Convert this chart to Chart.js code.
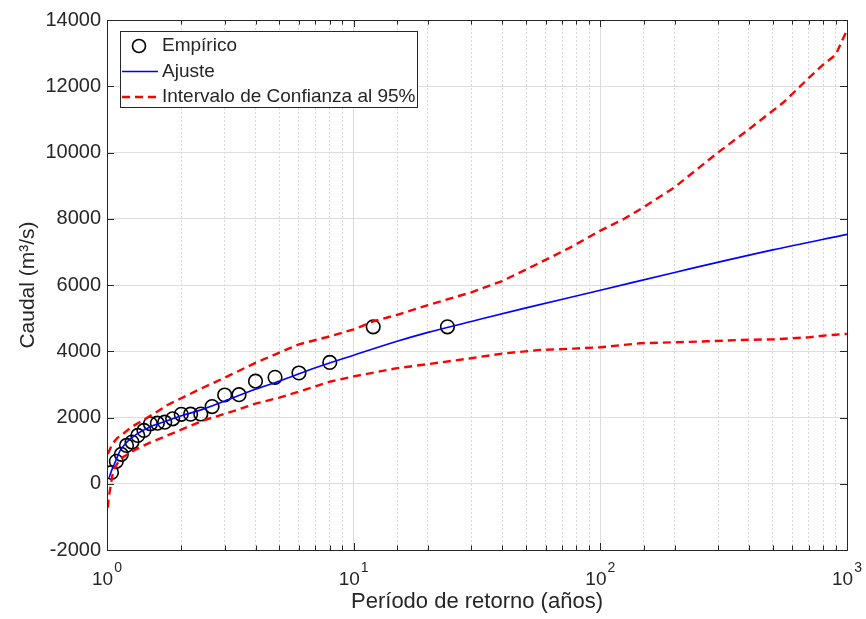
<!DOCTYPE html>
<html>
<head>
<meta charset="utf-8">
<script src="https://cdn.jsdelivr.net/npm/chart.js@4.4.0/dist/chart.umd.min.js"></script>
<style>
html,body{margin:0;padding:0;background:#ffffff;}
#wrap{width:866px;height:619px;}
</style>
</head>
<body>
<div id="wrap"><canvas id="c" width="866" height="619"></canvas></div>
<script>
// ---------------- data ----------------
const empiricalT = [1.043,1.091,1.143,1.2,1.263,1.333,1.412,1.5,1.6,1.714,1.846,2,2.182,2.4,2.667,3,3.429,4,4.8,6,8,12,24];
const empiricalQ = [340,677,887,1158,1257,1459,1609,1811,1829,1859,1961,2095,2100,2105,2331,2680,2690,3098,3212,3344,3663,4737,4737];

const fitT = [1.02,1.05,1.08,1.13,1.2,1.32,1.5,1.75,2,2.4,3,4,5,7,10,15,20,30,50,100,200,500,1000];
const fitQ = [180,450,660,1000,1250,1500,1720,1900,2050,2230,2500,2850,3100,3500,3880,4300,4570,4900,5310,5840,6380,7060,7530];

const upperT = [1.008,1.05,1.1,1.16,1.25,1.4,1.6,1.75,2,2.4,3,4,5,6,8,10,12,15,20,30,40,55,75,100,125,150,200,300,400,550,700,800,900,1000];
const upperQ = [900,1200,1380,1500,1700,1920,2180,2370,2580,2870,3200,3650,3960,4210,4450,4660,4900,5100,5390,5780,6120,6620,7120,7640,8000,8350,8950,10000,10700,11500,12250,12650,12950,13700];

const lowerT = [1.008,1.015,1.03,1.06,1.13,1.28,1.5,1.75,2.1,2.5,3.25,4,5,6,8,10,15,20,30,40,57,78,100,145,200,270,370,500,600,700,800,900,1000];
const lowerQ = [-720,-450,-150,400,750,1000,1250,1450,1700,1930,2190,2420,2600,2780,3080,3240,3490,3610,3790,3930,4040,4080,4120,4240,4270,4300,4340,4360,4390,4420,4470,4500,4525];

const xTickValues = [1,10,100,1000];
const xTickBase = '10';
const xTickExponents = ['0','1','2','3'];

const seriesLabels = ['Empírico','Ajuste','Intervalo de Confianza al 95%'];
const xTitle = 'Período de retorno (años)';
const yTitle = 'Caudal (m³/s)';

// ---------------- styling ----------------
const FONT = "'Liberation Sans', Arial, Helvetica, sans-serif";
const AX = '#262626';

function pts(xs, ys){ return xs.map((x,i)=>({x:x, y:ys[i]})); }
function isDecade(v){ const l = Math.log10(v); return Math.abs(l - Math.round(l)) < 1e-6; }

const matlabPlugin = {
  id: 'matlabAxes',
  afterDraw(chart){
    const ctx = chart.ctx;
    const a = chart.chartArea;
    const xs = chart.scales.x, ys = chart.scales.y;
    ctx.save();
    // inner tick marks
    ctx.strokeStyle = AX; ctx.lineWidth = 1;
    ctx.beginPath();
    ys.ticks.forEach(t => {
      const y = Math.round(ys.getPixelForValue(t.value)) + 0.5;
      ctx.moveTo(a.left, y); ctx.lineTo(a.left + 7, y);
      ctx.moveTo(a.right, y); ctx.lineTo(a.right - 7, y);
    });
    xs.ticks.forEach(t => {
      const x = Math.round(xs.getPixelForValue(t.value)) + 0.5;
      const len = isDecade(t.value) ? 7 : 4.5;
      ctx.moveTo(x, a.bottom); ctx.lineTo(x, a.bottom - len);
      ctx.moveTo(x, a.top); ctx.lineTo(x, a.top + len);
    });
    ctx.stroke();
    // box
    ctx.strokeRect(Math.round(a.left)+0.5, Math.round(a.top)+0.5, Math.round(a.right-a.left), Math.round(a.bottom-a.top));
    // x tick labels 10^n
    ctx.fillStyle = AX;
    ctx.textBaseline = 'alphabetic';
    ctx.textAlign = 'left';
    xTickValues.forEach((v,i) => {
      const x = xs.getPixelForValue(v);
      ctx.font = '19px ' + FONT;
      const wb = ctx.measureText(xTickBase).width;
      ctx.font = '14px ' + FONT;
      const we = ctx.measureText(xTickExponents[i]).width;
      const start = x - (wb + 1 + we) / 2;
      ctx.font = '19px ' + FONT;
      ctx.fillText(xTickBase, start, 585);
      ctx.font = '14px ' + FONT;
      ctx.fillText(xTickExponents[i], start + wb + 1, 572);
    });
    // legend
    const lx = 120, ly = 31, lw = 297, lh = 76;
    ctx.fillStyle = '#ffffff';
    ctx.fillRect(lx, ly, lw, lh);
    ctx.strokeStyle = AX; ctx.lineWidth = 1;
    ctx.strokeRect(lx + 0.5, ly + 0.5, lw, lh);
    const rows = [46, 71.5, 97];
    const items = chart.data.datasets.filter(d => !d.hideInLegend);
    ctx.font = '19px ' + FONT;
    ctx.textBaseline = 'middle';
    items.forEach((d, i) => {
      const y = rows[i];
      if (d.showLine === false) {
        ctx.beginPath();
        ctx.strokeStyle = d.borderColor; ctx.lineWidth = 1.6; ctx.setLineDash([]);
        ctx.arc(139, y, 6.5, 0, Math.PI * 2);
        ctx.stroke();
      } else {
        ctx.beginPath();
        ctx.strokeStyle = d.borderColor; ctx.lineWidth = d.borderWidth;
        ctx.setLineDash(d.borderDash || []);
        ctx.moveTo(122, y); ctx.lineTo(158, y);
        ctx.stroke();
        ctx.setLineDash([]);
      }
      ctx.fillStyle = AX;
      ctx.fillText(d.label, 162, y);
    });
    ctx.restore();
  }
};

new Chart(document.getElementById('c'), {
  type: 'line',
  data: {
    datasets: [
      { label: seriesLabels[0], data: pts(empiricalT, empiricalQ), showLine: false,
        pointStyle: 'circle', pointRadius: 6.8, pointBorderWidth: 1.6,
        borderColor: '#000000', pointBorderColor: '#000000', backgroundColor: 'rgba(0,0,0,0)',
        pointBackgroundColor: 'rgba(0,0,0,0)', order: 3 },
      { label: seriesLabels[1], data: pts(fitT, fitQ), borderColor: '#0000ff', borderWidth: 1.6,
        pointRadius: 0, cubicInterpolationMode: 'monotone', fill: false, order: 2 },
      { label: seriesLabels[2], data: pts(upperT, upperQ), borderColor: '#ff0000', borderWidth: 2.4,
        borderDash: [8, 5], pointRadius: 0, tension: 0, fill: false, order: 1 },
      { label: seriesLabels[2], data: pts(lowerT, lowerQ), borderColor: '#ff0000', borderWidth: 2.4,
        borderDash: [8, 5], pointRadius: 0, tension: 0, fill: false, order: 1, hideInLegend: true }
    ]
  },
  options: {
    responsive: false,
    animation: false,
    devicePixelRatio: 1,
    layout: { padding: { top: 20, right: 19, left: 0, bottom: 0 } },
    plugins: { legend: { display: false }, tooltip: { enabled: false } },
    scales: {
      x: {
        type: 'logarithmic', position: 'bottom', min: 1, max: 1000,
        ticks: { display: false },
        grid: { drawTicks: false, lineWidth: 1,
          color: c => (c.tick && isDecade(c.tick.value)) ? 'rgba(0,0,0,0)' : '#d8d8d8' },
        border: { display: false, dash: [2, 2] },
        title: { display: true, text: xTitle, color: AX, font: { family: FONT, size: 22 }, padding: { top: 4, bottom: 4 } },
        afterFit: s => { s.height = 69; }
      },
      x2: {
        type: 'logarithmic', position: 'bottom', min: 1, max: 1000,
        ticks: { display: false },
        grid: { drawTicks: false, lineWidth: 1,
          color: c => (c.tick && isDecade(c.tick.value)) ? '#dcdcdc' : 'rgba(0,0,0,0)' },
        border: { display: false },
        afterFit: s => { s.height = 0; }
      },
      y: {
        type: 'linear', min: -2000, max: 14000,
        ticks: { stepSize: 2000, color: AX, padding: 6, font: { family: FONT, size: 20 },
          callback: v => String(v) },
        grid: { drawTicks: false, color: '#dedede', lineWidth: 1 },
        border: { display: false },
        title: { display: true, text: yTitle, color: AX, font: { family: FONT, size: 21 }, padding: { top: 16, bottom: 16 } },
        afterFit: s => { s.width = 107; }
      }
    }
  },
  plugins: [matlabPlugin]
});
</script>
</body>
</html>
